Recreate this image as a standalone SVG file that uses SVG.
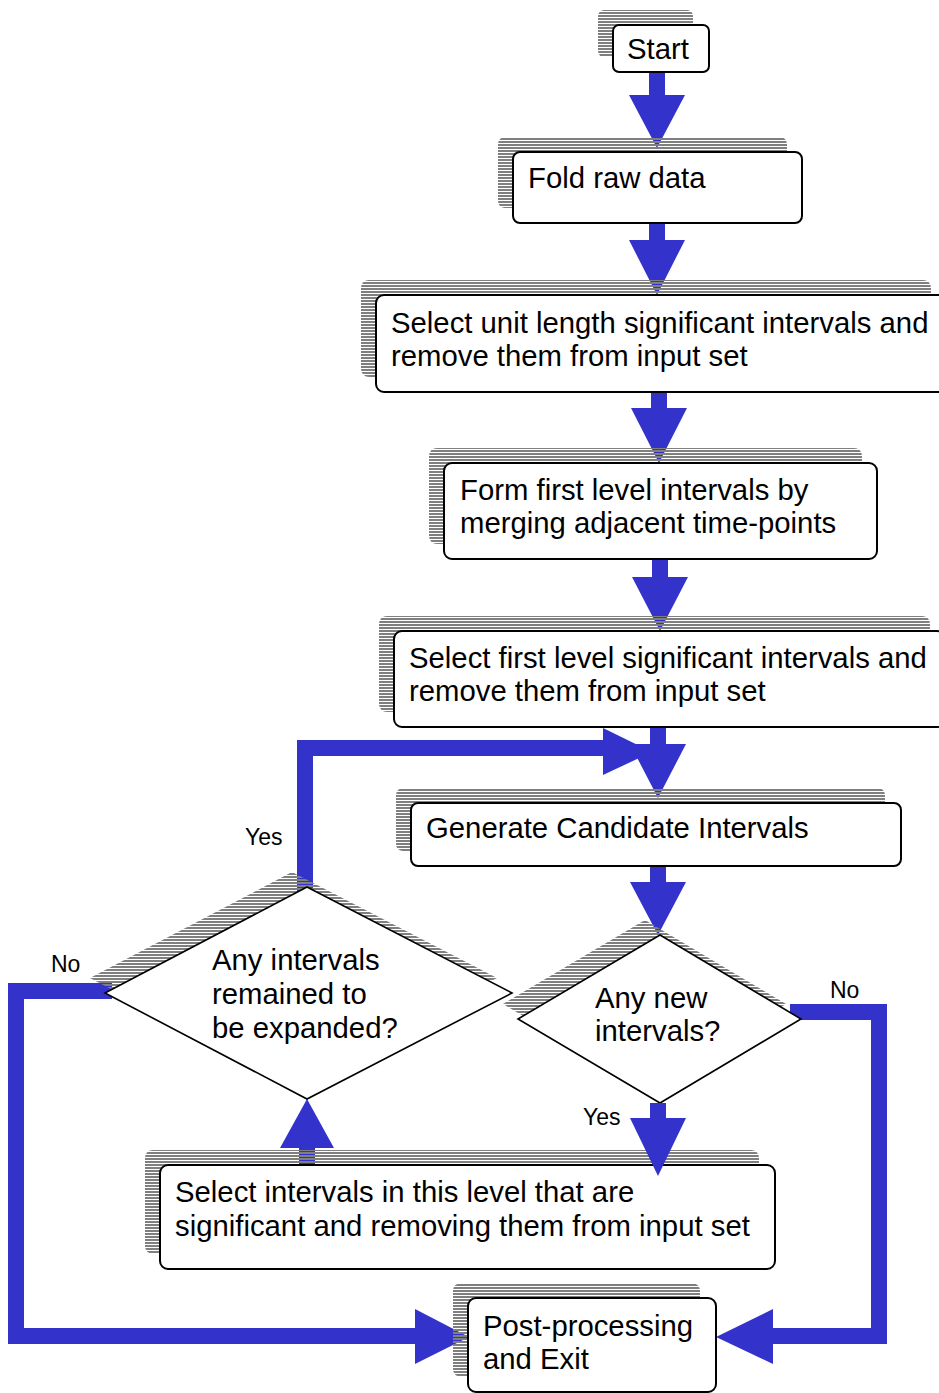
<svg xmlns="http://www.w3.org/2000/svg" width="939" height="1393" viewBox="0 0 939 1393">
<defs>
<pattern id="stripes" patternUnits="userSpaceOnUse" x="0" y="0" width="12" height="3">
<rect x="0" y="0" width="12" height="2" fill="#7f7f7f"/>
</pattern>
<style>
.shadow{fill:url(#stripes);stroke:none}
.box{fill:#ffffff;stroke:#000000;stroke-width:2}
.dia{fill:#ffffff;stroke:#000000;stroke-width:1.6;stroke-linejoin:miter}
.txt{font-family:"Liberation Sans",Arial,sans-serif;font-size:29.3px;fill:#000000}
.lbl{font-family:"Liberation Sans",Arial,sans-serif;font-size:23px;fill:#000000}
.arrow{fill:#3333cc;stroke:none}
.line{fill:none;stroke:#3333cc;stroke-width:16;stroke-linejoin:miter;stroke-linecap:butt}
</style>
</defs>
<rect x="0" y="0" width="939" height="1393" fill="#ffffff"/>

<g id="connectors">
<polygon class="arrow" points="649,72 665,72 665,95 685,95 657,148 629,95 649,95"/>
<polygon class="arrow" points="649,223 665,223 665,240 685,240 657,295 629,240 649,240"/>
<polygon class="arrow" points="651,392 667,392 667,408 687,408 659,463 631,408 651,408"/>
<polygon class="arrow" points="652,559 668,559 668,577 688,577 660,631 632,577 652,577"/>
<polygon class="arrow" points="650,727 666,727 666,744 686,744 658,798 630,744 650,744"/>
<polygon class="arrow" points="650,866 666,866 666,882 686,882 658,935 630,882 650,882"/>
<path class="line" d="M305,892 L305,748 L606,748"/>
<polygon class="arrow" points="603,728 603,775 652,752"/>
<polygon class="arrow" points="299,1166 315,1166 315,1148 334,1148 307,1099 280,1148 299,1148"/>
<path class="line" d="M112,991 L16,991 L16,1336 L418,1336"/>
<polygon class="arrow" points="415,1309 415,1364 469,1337"/>
<path class="line" d="M790,1012 L879,1012 L879,1336 L770,1336"/>
<polygon class="arrow" points="773,1309 773,1364 716,1337"/>
<text class="lbl" x="245" y="845">Yes</text>
<text class="lbl" x="51" y="972">No</text>
<text class="lbl" x="830" y="998">No</text>
<text class="lbl" x="583" y="1125">Yes</text>
</g>

<g id="start">
<rect class="shadow" x="598" y="10" width="95" height="47" rx="6"/>
<rect class="box" x="613" y="25" width="96" height="47" rx="6"/>
<text class="txt" x="627" y="59">Start</text>
</g>

<g id="fold">
<rect class="shadow" x="498" y="137" width="289" height="71" rx="7"/>
<rect class="box" x="513" y="152" width="289" height="71" rx="7"/>
<text class="txt" x="528" y="188">Fold raw data</text>
</g>

<g id="select-unit">
<rect class="shadow" x="361" y="280" width="570" height="97" rx="8"/>
<rect class="box" x="376" y="295" width="570" height="97" rx="8"/>
<text class="txt" x="391" y="333">Select unit length significant intervals and</text>
<text class="txt" x="391" y="366">remove them from input set</text>
</g>

<g id="form-first">
<rect class="shadow" x="429" y="448" width="433" height="96" rx="8"/>
<rect class="box" x="444" y="463" width="433" height="96" rx="8"/>
<text class="txt" x="460" y="500">Form first level intervals by</text>
<text class="txt" x="460" y="533">merging adjacent time-points</text>
</g>

<g id="select-first">
<rect class="shadow" x="379" y="616" width="551" height="96" rx="8"/>
<rect class="box" x="394" y="631" width="551" height="96" rx="8"/>
<text class="txt" x="409" y="668">Select first level significant intervals and</text>
<text class="txt" x="409" y="701">remove them from input set</text>
</g>

<g id="generate">
<rect class="shadow" x="396" y="788" width="489" height="63" rx="7"/>
<rect class="box" x="411" y="803" width="490" height="63" rx="7"/>
<text class="txt" x="426" y="838">Generate Candidate Intervals</text>
</g>

<g id="any-remained">
<polygon class="shadow" points="292,872 497,978 292,1084 90,978"/>
<polygon class="dia" points="307,887 512,993 307,1099 105,993"/>
<text class="txt" x="212" y="970">Any intervals</text>
<text class="txt" x="212" y="1004">remained to</text>
<text class="txt" x="212" y="1038">be expanded?</text>
</g>

<g id="any-new">
<polygon class="shadow" points="645,920 786,1004 645,1088 503,1004"/>
<polygon class="dia" points="660,935 801,1019 660,1103 518,1019"/>
<text class="txt" x="595" y="1008">Any new</text>
<text class="txt" x="595" y="1041">intervals?</text>
</g>

<g id="select-level">
<rect class="shadow" x="145" y="1150" width="614" height="104" rx="8"/>
<rect class="box" x="160" y="1165" width="615" height="104" rx="8"/>
<text class="txt" x="175" y="1202">Select intervals in this level that are</text>
<text class="txt" x="175" y="1236">significant and removing them from input set</text>
</g>

<g id="post-processing">
<rect class="shadow" x="453" y="1283" width="247" height="94" rx="8"/>
<rect class="box" x="468" y="1298" width="248" height="94" rx="8"/>
<text class="txt" x="483" y="1336">Post-processing</text>
<text class="txt" x="483" y="1369">and Exit</text>
</g>

<g id="connectors-overlay">
<polygon class="arrow" points="650,1103 666,1103 666,1118 686,1118 658,1176 630,1118 650,1118"/>
</g>
</svg>
